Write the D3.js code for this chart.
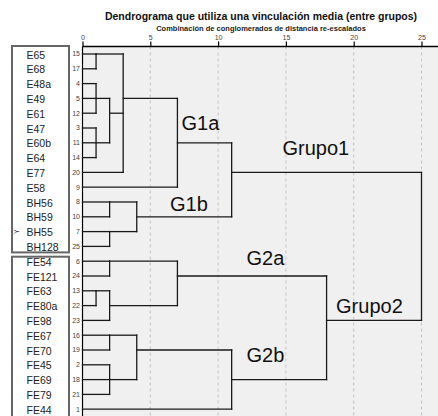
<!DOCTYPE html>
<html>
<head>
<meta charset="utf-8">
<script src="https://cdn.jsdelivr.net/npm/d3@7"></script>
<style>
  html, body { margin: 0; padding: 0; background: #fff; }
  svg { display: block; font-family: "Liberation Sans", Arial, sans-serif; }
</style>
</head>
<body>
<div id="chart"></div>
<script>
// Leaf order top→bottom (case numbers) and their names
const leafIds = [15, 17, 4, 5, 12, 3, 11, 14, 20, 9, 8, 10, 7, 25, 6, 24, 13, 22, 23, 16, 19, 2, 18, 21, 1];
const leafNames = ['E65', 'E68', 'E48a', 'E49', 'E61', 'E47', 'E60b', 'E64', 'E77', 'E58',
  'BH56', 'BH59', 'BH55', 'BH128',
  'FE54', 'FE121', 'FE63', 'FE80a', 'FE98', 'FE67', 'FE70', 'FE45', 'FE69', 'FE79', 'FE44'];
const ticks = [0, 5, 10, 15, 20, 25];

// merges: [id, rescaled distance, children, leaf whose row carries the joined line]
const mergeIds = ['a1', 'a2', 'a3', 'a4', 'a5', 'G1a', 'b1', 'b2', 'G1b', 'G1',
  'c1', 'c2', 'c3', 'G2a', 'd1', 'd2', 'd3', 'G2b', 'G2', 'root'];
const mergeHeights = [1, 1, 1, 2, 3, 7, 2, 2, 4, 11, 2, 1, 2, 7, 2, 2, 4, 11, 18, 25];
const mergeChildren = [[15, 17], [4, 5, 12], [3, 11, 14], ['a2', 'a3'], ['a1', 'a4', 20], ['a5', 9],
  [8, 10], [7, 25], ['b1', 'b2'], ['G1a', 'G1b'],
  [6, 24], [13, 22], ['c2', 23], ['c1', 'c3'], [16, 19], [2, 18, 21], ['d1', 'd2'], ['d3', 1],
  ['G2a', 'G2b'], ['G1', 'G2']];
const mergeExitLeaf = [15, 5, 11, 12, 5, 11, 8, 7, 10, 20, 6, 13, 22, 24, 16, 18, 19, 18, 23, null];

// group annotations: text, distance, row (baseline)
const groupText = ['G1a', 'Grupo1', 'G1b', 'G2a', 'Grupo2', 'G2b'];
const groupDist = [7.3, 14.75, 6.45, 12.1, 18.7, 12.1];
const groupRow = [5.15, 6.8, 10.58, 14.25, 17.5, 20.8];

const W = 438, H = 416;
const svg = d3.select('#chart').append('svg').attr('width', W).attr('height', H);

const x = d3.scaleLinear().domain([0, 25]).range([82.5, 421.5]);
const y = d3.scaleLinear().domain([0, leafIds.length - 1]).range([54, 409.2]);
const axisY = 46.5;

// Titles
svg.append('text').attr('x', 261).attr('y', 19.5).attr('text-anchor', 'middle')
  .attr('font-size', 10.5).attr('font-weight', 'bold').attr('fill', '#111')
  .text('Dendrograma que utiliza una vinculación media (entre grupos)');
svg.append('text').attr('x', 261).attr('y', 30.5).attr('text-anchor', 'middle')
  .attr('font-size', 7.5).attr('font-weight', 'bold').attr('fill', '#222')
  .text('Combinación de conglomerados de distancia re-escalados');

// Plot background
svg.append('rect').attr('x', x(0)).attr('y', axisY).attr('width', W - x(0)).attr('height', H - axisY)
  .attr('fill', '#f0f0f0');

// Grid
svg.append('g').selectAll('line').data(ticks.filter(t => t > 0)).join('line')
  .attr('x1', d => x(d)).attr('x2', d => x(d))
  .attr('y1', axisY).attr('y2', H)
  .attr('stroke', '#c4c4c4').attr('stroke-width', 1).attr('stroke-dasharray', '3,3');

// Top axis
const axis = svg.append('g').attr('transform', `translate(0,${axisY})`)
  .call(d3.axisTop(x).tickValues(ticks).tickSize(5).tickPadding(2));
axis.select('.domain').remove();
axis.selectAll('.tick line').attr('stroke', '#000').attr('stroke-width', 1.2);
axis.selectAll('.tick text').attr('font-size', 7).attr('fill', '#444')
  .attr('font-family', '"Liberation Sans", Arial, sans-serif');
svg.append('line').attr('x1', x(0)).attr('x2', W).attr('y1', axisY).attr('y2', axisY)
  .attr('stroke', '#000').attr('stroke-width', 1.5);
svg.append('line').attr('x1', x(0)).attr('x2', x(0)).attr('y1', axisY).attr('y2', H)
  .attr('stroke', '#000').attr('stroke-width', 1.2);

// Name boxes
const split = leafNames.findIndex(n => n.startsWith('FE'));
const boxes = [[0, split - 1], [split, leafIds.length - 1]];
svg.append('g').selectAll('rect').data(boxes).join('rect')
  .attr('x', 12).attr('width', 57)
  .attr('y', d => d[0] === 0 ? y(d[0]) - 8 : y(d[0]) - 4.5)
  .attr('height', (d, i) => i === 0 ? (y(d[1]) + 6) - (y(d[0]) - 8) : H + 4 - (y(d[0]) - 4.5))
  .attr('fill', '#fff').attr('stroke', '#666').attr('stroke-width', 2);

svg.append('g').selectAll('text').data(leafNames).join('text')
  .attr('x', 26.5).attr('y', (d, i) => y(i) + 1).attr('dy', '0.35em')
  .attr('font-size', 10.5).attr('fill', '#222').text(d => d);

// Y axis title (rotated)
svg.append('text').attr('transform', `translate(19,${y(12)}) rotate(-90)`)
  .attr('text-anchor', 'middle').attr('font-size', 7).attr('fill', '#333').text('Y');

// Case numbers
svg.append('g').selectAll('text').data(leafIds).join('text')
  .attr('x', 80).attr('y', (d, i) => y(i)).attr('dy', '0.35em').attr('text-anchor', 'end')
  .attr('font-size', 7).attr('fill', '#444').text(d => d);

// Build dendrogram segments
const info = new Map();
leafIds.forEach((id, i) => info.set(id, { h: 0, row: i }));
mergeIds.forEach((id, i) => {
  const exit = mergeExitLeaf[i];
  info.set(id, { h: mergeHeights[i], row: exit === null ? null : leafIds.indexOf(exit) });
});

const segs = [];
mergeIds.forEach((id, i) => {
  const h = mergeHeights[i];
  const rows = mergeChildren[i].map(c => info.get(c).row);
  mergeChildren[i].forEach(c => {
    const ci = info.get(c);
    segs.push({ x1: ci.h, y1: ci.row, x2: h, y2: ci.row });
  });
  segs.push({ x1: h, y1: d3.min(rows), x2: h, y2: d3.max(rows) });
});

svg.append('g').selectAll('line').data(segs).join('line')
  .attr('x1', d => x(d.x1)).attr('x2', d => x(d.x2))
  .attr('y1', d => y(d.y1)).attr('y2', d => y(d.y2))
  .attr('stroke', '#1a1a1a').attr('stroke-width', 1.3).attr('stroke-linecap', 'square');

// Group annotations
svg.append('g').selectAll('text').data(groupText).join('text')
  .attr('x', (d, i) => x(groupDist[i])).attr('y', (d, i) => y(groupRow[i]))
  .attr('font-size', 20).attr('fill', '#111').text(d => d);
</script>
</body>
</html>
